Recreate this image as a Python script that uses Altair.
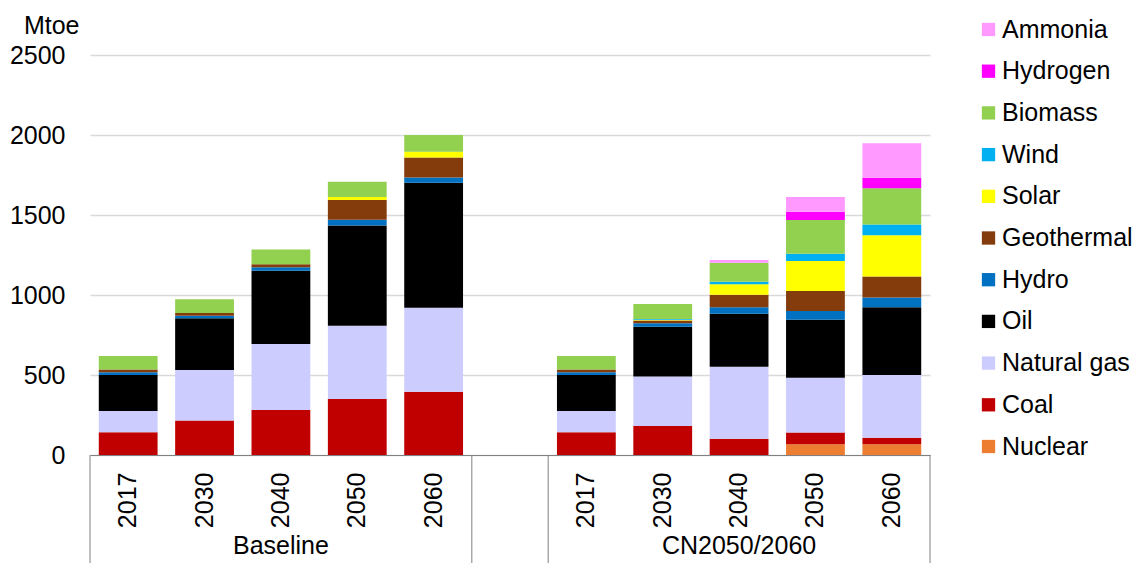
import altair as alt
import pandas as pd

# ---- data -------------------------------------------------------------
categories = ["B2017", "B2030", "B2040", "B2050", "B2060",
              "C2017", "C2030", "C2040", "C2050", "C2060"]
axis_domain = ["B2017", "B2030", "B2040", "B2050", "B2060", "G",
               "C2017", "C2030", "C2040", "C2050", "C2060"]
groups = ["Baseline", "CN2050/2060"]
group_centers = ["B2040", "C2040"]

series_names = ["Nuclear", "Coal", "Natural gas", "Oil", "Hydro", "Geothermal",
                "Solar", "Wind", "Biomass", "Hydrogen", "Ammonia"]
series_colors = ["#ED7D31", "#C00000", "#CCCCFF", "#000000", "#0070C0", "#843C0C",
                 "#FFFF00", "#00B0F0", "#92D050", "#FF00FF", "#FF99FF"]

nuclear = [0, 0, 0, 0, 0, 0, 0, 0, 67, 67]
coal = [142, 215, 281, 350, 396, 142, 181, 102, 73, 41]
natural_gas = [133, 316, 413, 458, 525, 133, 309, 450, 343, 392]
oil = [225, 323, 458, 627, 781, 225, 312, 331, 363, 423]
hydro = [17, 17, 21, 36, 33, 17, 21, 40, 54, 62]
geothermal = [18, 16, 19, 123, 125, 18, 17, 79, 125, 130]
solar = [0, 0, 0, 18, 36, 0, 6, 65, 187, 258]
wind = [0, 0, 0, 0, 0, 0, 4, 16, 46, 67]
biomass = [84, 86, 93, 96, 104, 84, 94, 119, 211, 227]
hydrogen = [0, 0, 0, 0, 0, 0, 0, 0, 52, 66]
ammonia = [0, 0, 0, 0, 0, 0, 0, 17, 91, 215]

y_ticks = [0, 500, 1000, 1500, 2000, 2500]

series_values = [nuclear, coal, natural_gas, oil, hydro, geothermal,
                 solar, wind, biomass, hydrogen, ammonia]

rows = []
for rank, (name, vals) in enumerate(zip(series_names, series_values)):
    for cat, v in zip(categories, vals):
        rows.append({"cat": cat, "source": name, "value": v, "rank": rank})
df = pd.DataFrame(rows)

FONT = "Liberation Sans"

x_scale = alt.Scale(domain=axis_domain, paddingInner=0, paddingOuter=0)

bars = alt.Chart(df).mark_bar(width=alt.RelativeBandSize(0.77)).encode(
    x=alt.X("cat:N", scale=x_scale, title=None,
            axis=alt.Axis(labelExpr="slice(datum.label, 1)", labelAngle=270,
                          labelAlign="right", labelBaseline="middle",
                          labelPadding=17, ticks=False, domainColor="#808080",
                          domainWidth=1, labelFontSize=25, labelColor="#000000",
                          grid=False)),
    y=alt.Y("value:Q", stack="zero",
            scale=alt.Scale(domain=[0, 2500], nice=False),
            axis=alt.Axis(values=y_ticks, format="d", title="Mtoe", titleAngle=0,
                          titleAlign="right", titleX=-11, titleY=-22,
                          titleBaseline="alphabetic", titleFontSize=25,
                          titleFontWeight="normal", titleColor="#000000",
                          domain=False, ticks=False, labelPadding=25,
                          labelFontSize=25, labelColor="#000000",
                          gridColor="#d9d9d9", gridWidth=1.5)),
    color=alt.Color("source:N",
                    scale=alt.Scale(domain=series_names[::-1], range=series_colors[::-1]),
                    legend=alt.Legend(title=None, orient="none", legendX=886, legendY=-38,
                                      padding=0, rowPadding=15.7, symbolType="square",
                                      symbolSize=177, symbolStrokeWidth=0, labelOffset=1,
                                      labelFontSize=25, labelColor="#000000",
                                      labelLimit=300)),
    order=alt.Order("rank:Q", sort="ascending"),
)

# group box separators (left edges of bands)
sep_df = pd.DataFrame({"cat": ["B2017", "G", "C2017"]})
seps = alt.Chart(sep_df).mark_rule(color="#808080", strokeWidth=1).encode(
    x=alt.X("cat:N", scale=x_scale, bandPosition=0),
    y=alt.value(400), y2=alt.value(520),
)
end_df = pd.DataFrame({"cat": ["C2060"]})
ends = alt.Chart(end_df).mark_rule(color="#808080", strokeWidth=1).encode(
    x=alt.X("cat:N", scale=x_scale, bandPosition=1),
    y=alt.value(400), y2=alt.value(520),
)

grp_df = pd.DataFrame({"cat": group_centers, "label": groups})
grp_text = alt.Chart(grp_df).mark_text(fontSize=25, font=FONT, color="#000000",
                                       baseline="middle", align="center").encode(
    x=alt.X("cat:N", scale=x_scale),
    y=alt.value(491),
    text="label:N",
)

chart = alt.layer(bars, seps, ends, grp_text).properties(
    width=840, height=400,
    padding={"left": 82, "top": 47, "right": 208, "bottom": 108},
    autosize=alt.AutoSizeParams(type="none"),
).configure(
    font=FONT,
    view=alt.ViewConfig(stroke=None),
    axis=alt.AxisConfig(labelFont=FONT, titleFont=FONT),
    legend=alt.LegendConfig(labelFont=FONT),
)

chart.save("out.html", embed_options={"renderer": "svg", "actions": False})
